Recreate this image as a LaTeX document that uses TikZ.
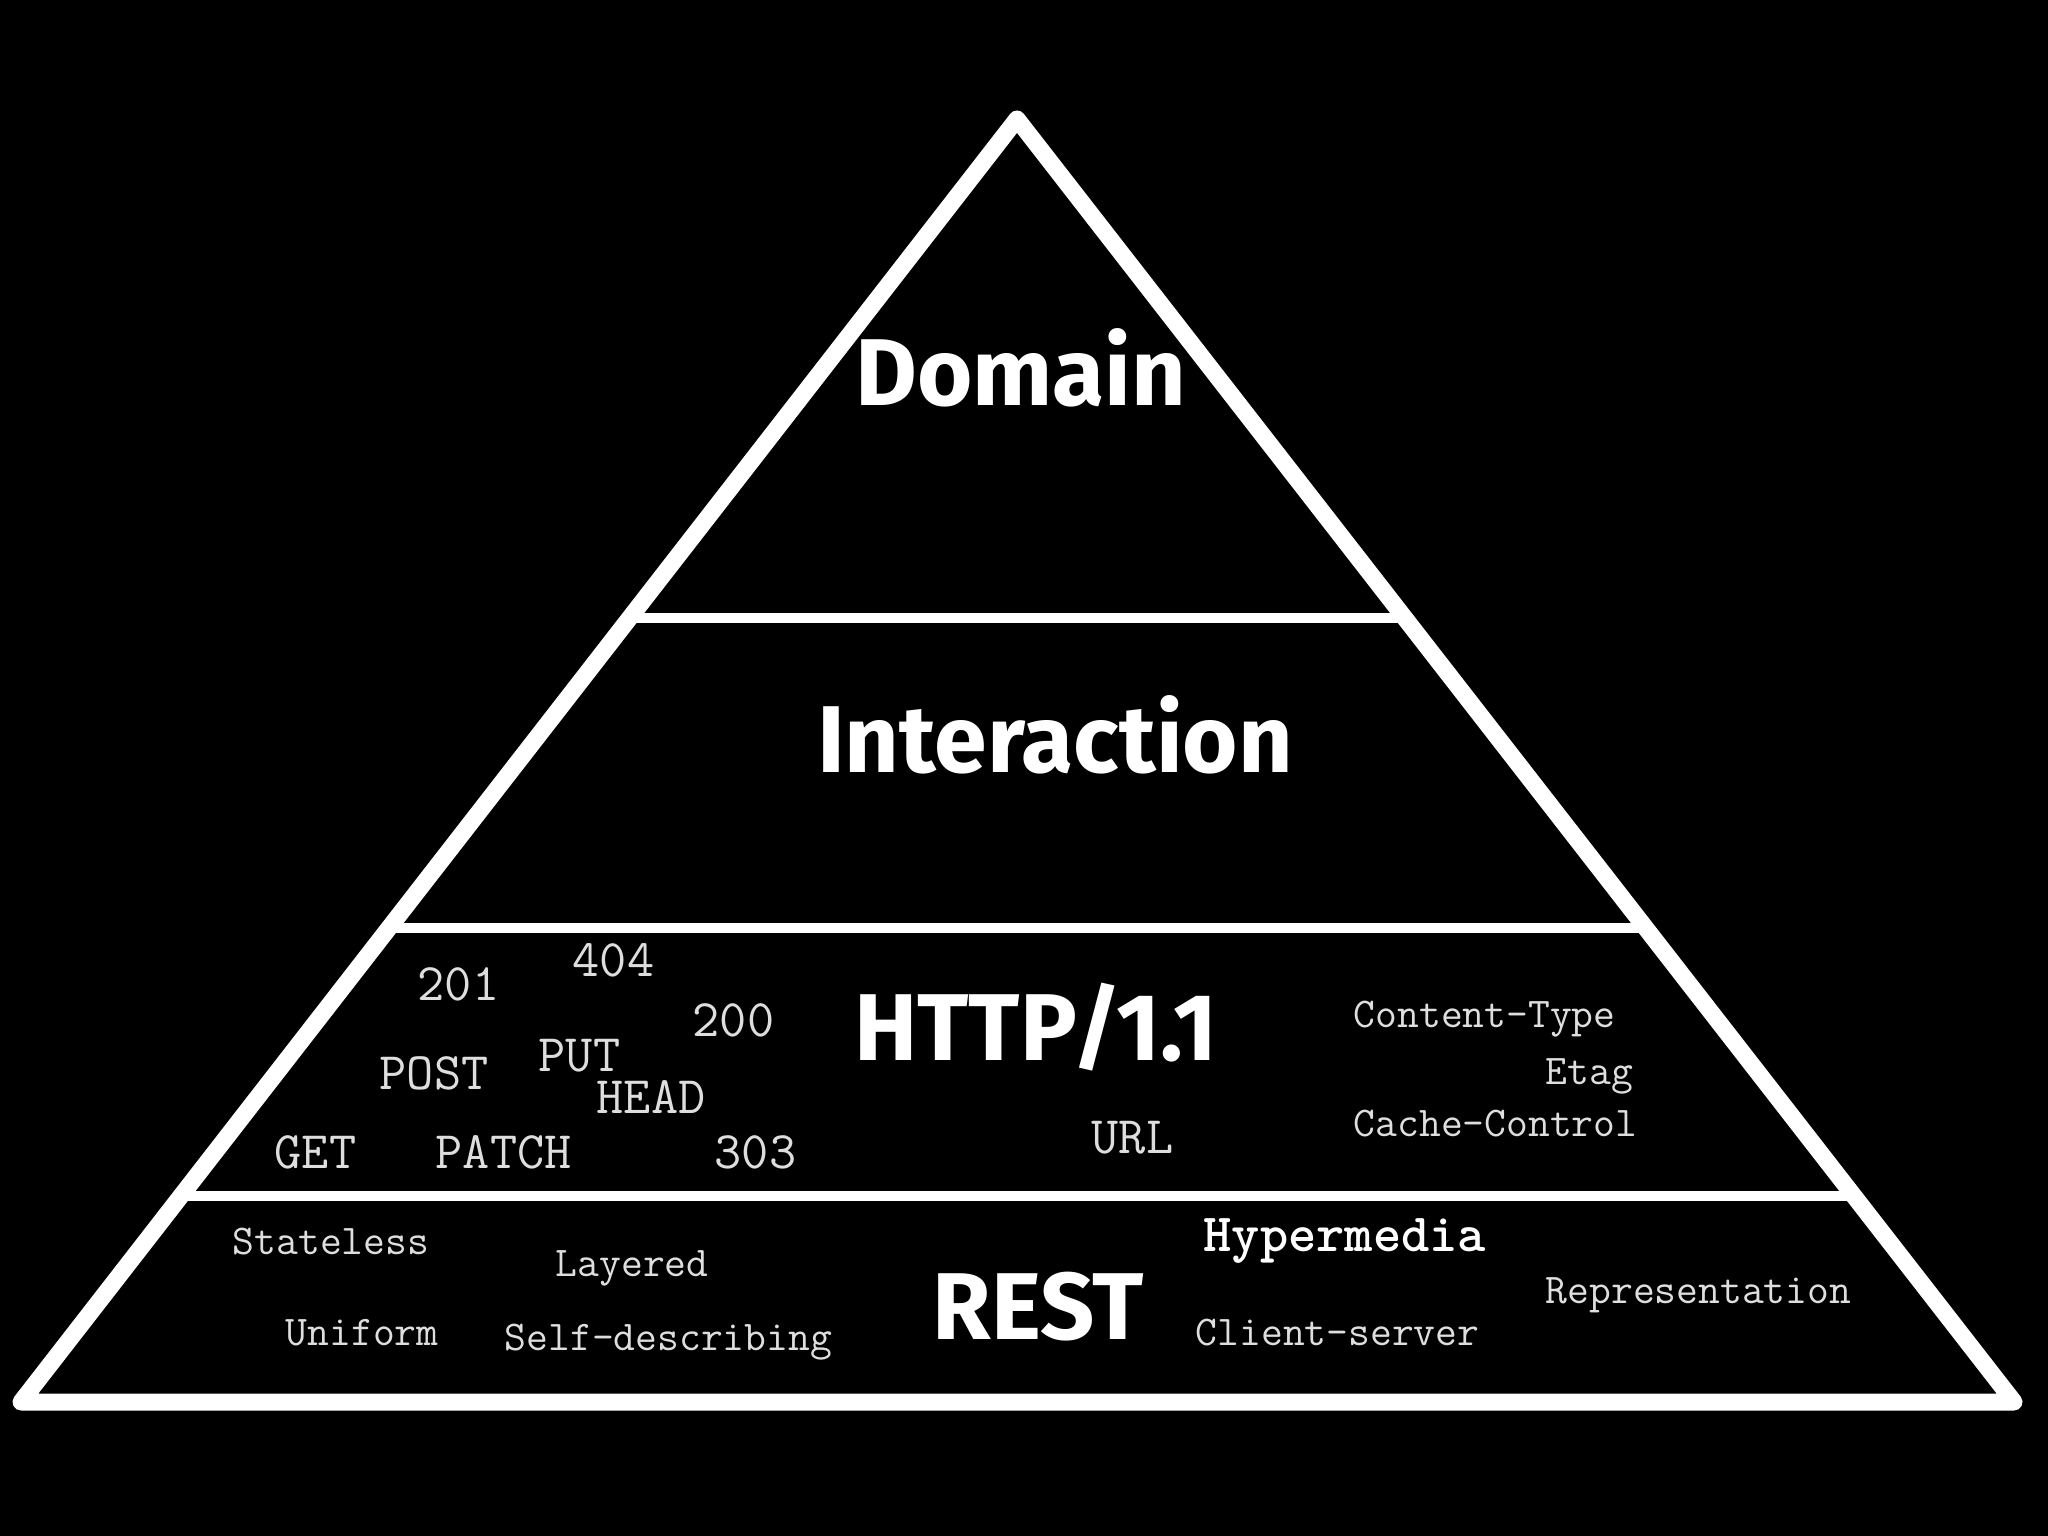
\documentclass[tikz,border=0pt]{standalone}
\usepackage{fontspec}
\setmainfont{Fira Sans}
\usepackage{tikz}
\usetikzlibrary{calc}
\definecolor{wordgray}{RGB}{222,222,222}

\begin{document}
\begin{tikzpicture}[
  x=0.01cm, y=-0.01cm,
  layername/.style={font=\fontsize{27}{30}\selectfont\bfseries, text=white, inner sep=0pt, anchor=base},
  bigword/.style={font=\ttfamily\fontsize{15}{17}\selectfont, text=wordgray, inner sep=0pt, anchor=base west},
  smallword/.style={font=\ttfamily\fontsize{12.05}{14}\selectfont, text=wordgray, inner sep=0pt, anchor=base west},
  edge/.style={draw=white, line width=0.17cm, line join=round},
  divider/.style={draw=white, line width=0.1cm},
]

% Background
\fill[black] (0,0) rectangle (2048,1536);

% Pyramid
\coordinate (apex) at (1017,119);
\coordinate (bl) at (21,1402);
\coordinate (br) at (2014,1402);
\coordinate (d1l) at ($(bl)!0.611!(apex)$);
\coordinate (d1r) at ($(br)!0.611!(apex)$);
\coordinate (d2l) at ($(bl)!0.3694!(apex)$);
\coordinate (d2r) at ($(br)!0.3694!(apex)$);
\coordinate (d3l) at ($(bl)!0.1606!(apex)$);
\coordinate (d3r) at ($(br)!0.1606!(apex)$);
\draw[divider] (d1l) -- (d1r);
\draw[divider] (d2l) -- (d2r);
\draw[divider] (d3l) -- (d3r);
\draw[edge] (apex) -- (bl) -- (br) -- cycle;

% Layer names
\node[layername] (domain) at (1021,405) {Domain};
\node[layername] (interaction) at (1055,772) {Interaction};
\node[layername] (http) at (1036,1060) {HTTP/1.1};
\node[layername] (rest) at (1038,1339) {REST};

% HTTP layer
\node[bigword] (s201) at (417,1000) {201};
\node[bigword] (s404) at (572,976) {404};
\node[bigword] (s200) at (692,1036) {200};
\node[bigword] (post) at (379,1089) {POST};
\node[bigword] (put) at (538,1071) {PUT};
\node[bigword] (head) at (596,1113) {HEAD};
\node[bigword] (get) at (274,1168) {GET};
\node[bigword] (patch) at (435,1168) {PATCH};
\node[bigword] (s303) at (714,1168) {303};
\node[bigword] (url) at (1091,1153) {URL};
\node[smallword] (ctype) at (1353,1027) {Content-Type};
\node[smallword] (etag) at (1545,1084) {Etag};
\node[smallword] (cache) at (1353,1136) {Cache-Control};

% REST layer
\node[smallword] (stateless) at (232,1254) {Stateless};
\node[smallword] (layered) at (555,1276) {Layered};
\node[smallword] (uniform) at (285,1345) {Uniform};
\node[smallword] (selfdesc) at (504,1350) {Self-describing};
\node[bigword, font=\ttfamily\bfseries\fontsize{15.3}{17}\selectfont, text=white] (hyper) at (1203,1251) {Hypermedia};
\node[smallword] (clientsrv) at (1195,1345) {Client-server};
\node[smallword] (repr) at (1545,1303) {Representation};

\end{tikzpicture}
\end{document}
